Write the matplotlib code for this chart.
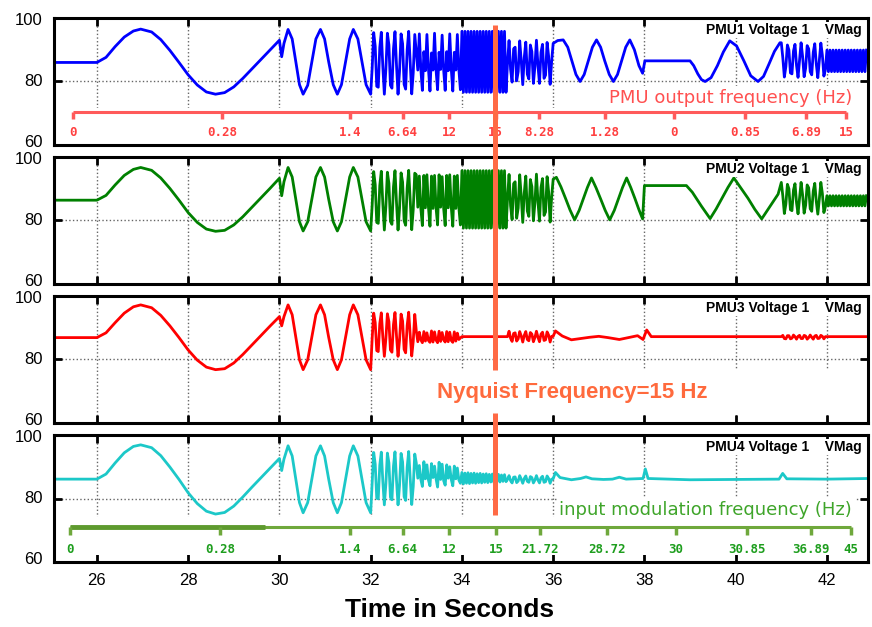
import numpy as np
import matplotlib
matplotlib.use('Agg')
import matplotlib.pyplot as plt
import matplotlib.transforms as mtransforms
from matplotlib.patches import Rectangle
from matplotlib.lines import Line2D

plt.rcParams['font.family'] = ['Liberation Sans', 'DejaVu Sans']

FS = 30.0  # PMU reporting rate (samples per second)

# common key times for 25 s .. 32 s (flat, 0.28 Hz, 1.4 Hz parts)
t_a = [25.06, 26.0, 26.2, 26.4, 26.6, 26.8, 26.96, 27.2, 27.4, 27.6, 27.8, 28.0, 28.2, 28.4, 28.6,
       28.8, 29.0, 29.2, 29.4, 29.6, 29.8, 30.0, 30.05, 30.1, 30.19, 30.28, 30.36, 30.44, 30.52,
       30.62, 30.71, 30.8, 30.9, 30.99, 31.08, 31.18, 31.27, 31.36, 31.45, 31.54, 31.62, 31.72,
       31.81, 31.9]

# ---------------- PMU1 (blue) ----------------
pmu1_v_a = [86.0, 86.0, 87.6, 91.0, 94.0, 95.9, 96.5, 95.6, 93.2, 89.8, 86.0, 82.1, 78.9, 76.7, 76.0,
            76.5, 78.3, 81.0, 84.0, 87.0, 90.0, 93.0, 87.8, 92.0, 96.4, 93.4, 86.2, 79.0, 76.0, 78.8,
            86.2, 93.4, 96.4, 93.4, 86.2, 79.0, 76.0, 79.0, 86.2, 93.4, 96.4, 93.4, 86.2, 79.0]
pmu1_fast_a = [76.0, 84.2, 95.4, 91.1, 78.5, 78.2, 90.7, 95.5, 84.7, 76.0, 83.8, 95.2, 91.5, 78.8, 77.9,
               90.3, 95.7, 85.1, 76.0, 83.3, 95.0, 91.9, 79.1, 77.6, 89.9, 95.8, 85.6, 76.1, 82.8, 94.8,
               89.2, 83.6, 95.0, 83.8, 77.2, 89.4, 83.4, 94.8, 84.0, 77.0, 89.0, 83.6, 95.2, 83.6, 77.4,
               89.2, 83.8, 94.6, 83.6, 77.2, 89.4, 83.4, 95.0, 84.0, 77.0, 89.2, 83.6, 94.8, 83.8, 77.4,
               95.8, 76.6, 95.8, 76.6, 95.8, 76.6, 95.8, 76.6, 95.8, 76.6, 95.8, 76.6, 95.8, 76.6, 95.8,
               76.6, 95.8, 76.6, 95.8, 76.6, 95.8, 76.6, 95.8, 76.6, 95.8, 76.6, 95.8, 76.6, 95.8, 76.6,
               86.0, 92.9, 83.8, 79.8, 90.3, 90.8, 80.2, 83.1, 92.8, 86.6, 79.0, 87.6, 92.4, 82.3, 80.8,
               91.5, 89.4, 79.4, 84.7, 93.0, 85.0, 79.4, 89.2, 91.7, 81.0, 82.0, 92.3, 88.0, 79.1, 86.4]
pmu1_t_b = [36.0, 36.1, 36.22, 36.32, 36.41, 36.5, 36.59, 36.68, 36.77, 36.86, 36.95, 37.04, 37.13,
            37.23, 37.32, 37.41, 37.5, 37.59, 37.68, 37.78, 37.88, 37.96, 38.01, 39.0, 39.08, 39.17,
            39.25, 39.33, 39.46, 39.6, 39.73, 39.87, 40.02, 40.18, 40.33, 40.49, 40.61, 40.73, 40.85,
            40.97]
pmu1_v_b = [92.0, 92.9, 93.1, 90.8, 86.5, 82.2, 80.0, 82.2, 86.5, 90.8, 93.1, 90.8, 86.5, 82.2, 80.0,
            82.2, 86.5, 90.8, 93.1, 90.0, 85.0, 82.6, 86.5, 86.5, 85.0, 82.4, 80.6, 80.0, 81.2, 85.0,
            89.3, 92.8, 91.2, 86.5, 81.8, 80.0, 81.6, 85.5, 89.5, 92.2]
pmu1_fast_b = [92.2, 87.4, 81.4, 84.7, 91.5, 89.9, 82.7, 82.4, 89.6, 91.7, 85.1, 81.3, 86.9, 92.2, 87.9,
               81.5, 84.2, 91.3, 90.3, 83.1, 82.1, 89.2, 91.9, 85.5, 81.2, 86.5, 92.1, 88.3, 81.7, 83.8,
               89.9, 83.1, 89.9, 83.1, 89.9, 83.1, 89.9, 83.1, 89.9, 83.1, 89.9, 83.1, 89.9, 83.1, 89.9,
               83.1, 89.9, 83.1, 89.9, 83.1, 89.9, 83.1, 89.9, 83.1, 89.9, 83.1, 89.9]

# ---------------- PMU2 (green) ----------------
pmu2_v_a = [86.4, 86.4, 87.9, 91.2, 94.2, 96.1, 96.7, 95.8, 93.4, 90.1, 86.4, 82.5, 79.4, 77.3, 76.6,
            76.9, 78.6, 81.2, 84.2, 87.2, 90.2, 93.3, 87.8, 92.2, 96.7, 93.7, 86.7, 79.6, 76.7, 79.6,
            86.7, 93.7, 96.7, 93.7, 86.7, 79.6, 76.7, 79.6, 86.7, 93.7, 96.7, 93.7, 86.7, 79.6]
pmu2_fast_a = [76.7, 84.8, 95.4, 91.3, 79.4, 79.1, 91.0, 95.5, 85.3, 77.0, 84.4, 95.2, 91.7, 79.7, 78.8,
               90.6, 95.7, 85.6, 77.0, 83.9, 95.0, 92.1, 79.9, 78.5, 90.2, 95.8, 86.1, 77.1, 83.5, 94.9,
               94.4, 84.2, 94.0, 83.8, 78.4, 94.2, 84.0, 94.4, 84.2, 78.2, 94.0, 83.8, 94.2, 84.0, 78.6,
               94.4, 84.2, 93.8, 83.8, 78.4, 94.2, 84.0, 94.4, 84.2, 78.2, 94.0, 83.8, 94.2, 84.0, 78.6,
               95.7, 77.6, 95.7, 77.6, 95.7, 77.6, 95.7, 77.6, 95.7, 77.6, 95.7, 77.6, 95.7, 77.6, 95.7,
               77.6, 95.7, 77.6, 95.7, 77.6, 95.7, 77.6, 95.7, 77.6, 95.7, 77.6, 95.7, 77.6, 95.7, 77.6,
               87.0, 94.5, 84.6, 80.3, 91.6, 92.2, 80.7, 83.9, 94.4, 87.7, 79.4, 88.7, 94.0, 83.0, 81.3,
               92.9, 90.7, 79.9, 85.6, 94.6, 85.9, 79.8, 90.4, 93.2, 81.6, 82.7, 93.8, 89.1, 79.5, 87.4]
pmu2_t_b = [36.0, 36.07, 36.17, 36.27, 36.37, 36.47, 36.57, 36.66, 36.75, 36.84, 36.94, 37.04, 37.14,
            37.24, 37.34, 37.43, 37.52, 37.61, 37.7, 37.79, 37.88, 37.96, 38.0, 38.92, 39.05, 39.25,
            39.44, 39.57, 39.7, 39.83, 39.96, 40.11, 40.27, 40.42, 40.57, 40.75, 40.93]
pmu2_v_b = [93.0, 93.6, 90.6, 87.0, 83.3, 80.2, 83.2, 86.8, 90.4, 93.4, 90.3, 86.8, 83.2, 80.2, 83.2,
            86.8, 90.4, 93.4, 90.4, 87.0, 83.4, 80.5, 91.0, 91.0, 88.9, 84.5, 80.6, 83.6, 87.0, 90.4,
            93.4, 90.3, 87.0, 83.5, 80.5, 84.4, 88.3]
pmu2_fast_b = [92.0, 87.7, 82.2, 85.2, 91.4, 90.0, 83.4, 83.1, 89.6, 91.6, 85.6, 82.1, 87.2, 92.0, 88.1,
               82.3, 84.8, 91.2, 90.3, 83.7, 82.9, 89.3, 91.7, 86.0, 82.0, 86.8, 92.0, 88.5, 82.5, 84.4,
               87.8, 84.6, 87.8, 84.6, 87.8, 84.6, 87.8, 84.6, 87.8, 84.6, 87.8, 84.6, 87.8, 84.6, 87.8,
               84.6, 87.8, 84.6, 87.8, 84.6, 87.8, 84.6, 87.8, 84.6, 87.8, 84.6, 87.8]

# ---------------- PMU3 (red) ----------------
pmu3_v_a = [86.9, 86.9, 88.4, 91.6, 94.6, 96.6, 97.2, 96.3, 93.9, 90.6, 86.9, 83.0, 79.8, 77.6, 76.8,
            77.1, 78.9, 81.6, 84.6, 87.6, 90.6, 93.5, 90.6, 93.5, 97.2, 94.1, 87.0, 79.9, 76.8, 79.9,
            87.0, 94.1, 97.2, 94.1, 87.0, 79.9, 76.8, 79.9, 87.0, 94.1, 97.2, 94.1, 87.0, 79.9]
pmu3_fast_a = [76.8, 86.7, 94.6, 91.6, 82.8, 82.5, 91.3, 94.7, 87.1, 81.0, 86.5, 94.4, 91.9, 83.0, 82.3,
               91.0, 94.8, 87.4, 81.0, 86.1, 94.3, 92.1, 83.2, 82.1, 90.7, 94.9, 87.7, 81.1, 85.8, 94.2,
               89.0, 85.6, 88.6, 86.2, 85.3, 88.8, 85.8, 88.4, 86.0, 85.4, 89.0, 85.5, 88.7, 86.1, 85.3,
               88.9, 85.7, 88.5, 86.2, 85.5, 88.8, 85.6, 88.6, 86.0, 85.4, 88.7, 85.8, 88.3, 86.3, 86.8]
pmu3_fast_b = [87.2, 88.9, 86.7, 85.7, 88.2, 88.4, 85.8, 86.5, 88.8, 87.4, 85.5, 87.6, 88.8, 86.3, 85.9,
               88.5, 88.0, 85.6, 86.9, 88.9, 87.0, 85.6, 88.0, 88.6, 86.0, 86.2, 88.7, 87.7, 85.5, 87.3]
pmu3_fast_c = [87.2, 87.6, 86.6, 86.5, 87.5, 87.5, 86.5, 86.7, 87.7, 87.2, 86.4, 87.3, 87.6, 86.6, 86.6,
               87.6, 87.4, 86.4, 86.9, 87.7, 87.0, 86.4, 87.4, 87.6, 86.6, 86.7, 87.6, 87.3, 86.5, 87.2]
pmu3_t_b = [34.0, 34.97, 36.0, 36.05, 36.2, 36.4, 36.6, 36.8, 37.0, 37.2, 37.45, 37.65, 37.85, 37.97,
            38.05, 38.15, 40.97, 42.0, 42.9]
pmu3_v_b = [87.2, 87.2, 87.3, 89.0, 87.4, 86.2, 86.6, 87.0, 87.3, 86.9, 86.3, 86.9, 87.5, 86.3, 89.3,
            87.2, 87.2, 87.2, 87.2]

# ---------------- PMU4 (cyan) ----------------
pmu4_v_a = [86.1, 86.1, 87.7, 91.2, 94.4, 96.4, 96.9, 96.0, 93.5, 89.9, 86.0, 81.8, 78.4, 76.0, 75.1,
            75.6, 77.6, 80.5, 83.6, 86.6, 89.6, 92.6, 88.8, 92.4, 96.6, 93.4, 86.1, 78.7, 75.5, 78.7,
            86.1, 93.4, 96.6, 93.4, 86.1, 78.7, 75.5, 78.7, 86.1, 93.4, 96.6, 93.4, 86.1, 78.7]
pmu4_fast_a = [75.5, 85.0, 94.5, 90.8, 80.1, 79.9, 90.5, 94.6, 85.4, 78.0, 84.6, 94.3, 91.2, 80.4, 79.6,
               90.2, 94.7, 85.7, 78.0, 84.2, 94.2, 91.5, 80.6, 79.4, 89.8, 94.8, 86.2, 78.1, 83.8, 94.0,
               91.2, 86.4, 90.4, 86.0, 83.8, 91.6, 86.2, 90.6, 85.8, 84.0, 91.0, 86.6, 90.2, 86.2, 83.6,
               91.4, 86.0, 90.8, 85.6, 84.2, 90.6, 86.4, 90.0, 86.0, 84.0, 90.2, 86.2, 89.6, 85.8, 84.8,
               88.2, 84.6, 88.0, 84.8, 88.1, 84.7, 87.9, 84.9, 88.0, 84.8, 87.8, 85.0, 87.9, 84.9, 87.7,
               85.1, 87.8, 85.0, 87.6, 85.2, 87.7, 85.1, 87.5, 85.3, 87.6, 85.2, 87.4, 85.4, 87.5, 85.3,
               86.0, 87.2, 85.6, 84.9, 86.7, 86.8, 85.0, 85.5, 87.2, 86.1, 84.8, 86.3, 87.1, 85.4, 85.1,
               86.9, 86.6, 84.9, 85.8, 87.2, 85.8, 84.9, 86.5, 87.0, 85.1, 85.3, 87.1, 86.3, 84.8, 86.1]
pmu4_t_b = [36.0, 36.05, 36.15, 36.4, 36.6, 36.72, 36.85, 37.1, 37.3, 37.45, 37.6, 37.97, 38.02, 38.08,
            39.0, 40.0, 40.95, 41.03, 41.12, 42.0, 42.9]
pmu4_v_b = [86.2, 88.2, 86.6, 85.9, 86.3, 86.8, 86.2, 86.0, 86.1, 86.7, 86.1, 86.3, 89.3, 86.3, 85.9,
            86.0, 86.1, 87.9, 86.2, 86.1, 86.3]

# frequency scales
freq_out_pos = [25.48, 28.75, 31.55, 32.70, 33.72, 34.74, 35.69, 37.13, 38.65, 40.20, 41.55, 42.42]
freq_out_lbl = ['0', '0.28', '1.4', '6.64', '12', '15', '8.28', '1.28', '0', '0.85', '6.89', '15']
freq_in_pos = [25.41, 28.70, 31.55, 32.70, 33.72, 34.75, 35.71, 37.17, 38.69, 40.24, 41.64, 42.52]
freq_in_lbl = ['0', '0.28', '1.4', '6.64', '12', '15', '21.72', '28.72', '30', '30.85', '36.89', '45']

nyquist_t = 34.72
y_ticks = [60, 80, 100]


def series(t_key, v_key, fast):
    t = list(t_key)
    v = list(v_key)
    for t0, vals in fast:
        t += list(t0 + np.arange(len(vals)) / FS)
        v += list(vals)
    t = np.array(t)
    v = np.array(v)
    order = np.argsort(t, kind='stable')
    return t[order], v[order]


panels = [
    (series(t_a + pmu1_t_b, pmu1_v_a + pmu1_v_b, [(32.0, pmu1_fast_a), (41.0, pmu1_fast_b)]),
     '#0000FF', 'PMU1 Voltage 1    VMag'),
    (series(t_a + pmu2_t_b, pmu2_v_a + pmu2_v_b, [(32.0, pmu2_fast_a), (41.0, pmu2_fast_b)]),
     '#008000', 'PMU2 Voltage 1    VMag'),
    (series(t_a + pmu3_t_b, pmu3_v_a + pmu3_v_b,
            [(32.0, pmu3_fast_a), (35.0, pmu3_fast_b), (41.0, pmu3_fast_c)]),
     '#FF0000', 'PMU3 Voltage 1    VMag'),
    (series(t_a + pmu4_t_b, pmu4_v_a + pmu4_v_b, [(32.0, pmu4_fast_a)]),
     '#1CC8C8', 'PMU4 Voltage 1    VMag'),
]

W, H = 872, 627
fig = plt.figure(figsize=(W / 100, H / 100), dpi=100)
left, right = 54 / W, 868 / W
tops = [18, 157, 296, 435]
ph = 127
axes = []
for i, ((t, v), col, name) in enumerate(panels):
    ax = fig.add_axes([left, 1 - (tops[i] + ph) / H, right - left, ph / H])
    ax.plot(t, v, color=col, lw=2.0, zorder=3)
    ax.set_xlim(25.06, 42.9)
    ax.set_ylim(60, 100)
    ax.set_xticks(np.arange(26, 43, 2))
    ax.set_yticks(y_ticks)
    ax.grid(True, linestyle=':', color='#666666', lw=1.0)
    ax.tick_params(direction='in', length=6, width=2, top=True, right=True,
                   labelsize=12, pad=8, labelleft=False)
    for s in ax.spines.values():
        s.set_linewidth(2.2)
        s.set_zorder(8)
    if i < 3:
        ax.tick_params(labelbottom=False)
    # y tick labels; 60 nudged up and 100 nudged down so neighbours do not collide
    for yv in y_ticks:
        dy = {60: 2.0, 80: 0.0, 100: -1.5}[yv] / 72
        tr = ax.get_yaxis_transform() + mtransforms.ScaledTranslation(-8 / 72, dy,
                                                                     fig.dpi_scale_trans)
        ax.text(0, yv, str(yv), transform=tr, ha='right', va='center', fontsize=12)
    ax.text(42.77, 96.2, name, ha='right', va='center', fontsize=10, fontweight='bold',
            zorder=5, bbox=dict(fc='white', ec='none', pad=1))
    axes.append(ax)

ax1, ax2, ax3, ax4 = axes
ax1.tick_params(bottom=False)

# panel 1: PMU output frequency scale
ax1.add_patch(Rectangle((25.0, 59.0), 18.0, 12.8, fc='white', ec='none', zorder=2.6))
ax1.plot([freq_out_pos[0], freq_out_pos[-1]], [70.3, 70.3], color='#FF5A5A', lw=2.2, zorder=4,
         solid_capstyle='butt')
for x, lbl in zip(freq_out_pos, freq_out_lbl):
    ax1.plot([x, x], [70.3, 68.2], color='#FF5A5A', lw=2.5, zorder=4, solid_capstyle='butt')
    ax1.text(x, 63.8, lbl, color='#FF4040', ha='center', va='center', fontsize=9,
             fontweight='bold', family='DejaVu Sans Mono', zorder=5)
ax1.text(42.55, 74.8, 'PMU output frequency (Hz)', color='#FF5050', ha='right', va='center',
         fontsize=13, family='DejaVu Sans', zorder=4, bbox=dict(fc='white', ec='none', pad=2))

# panel 3: Nyquist label box
ax3.add_patch(Rectangle((33.4, 62.4), 9.6, 14.4, fc='white', ec='none', zorder=2.6))
ax3.text(33.45, 69.7, 'Nyquist Frequency=15 Hz', color='#FF6A3D', ha='left', va='center',
         fontsize=16, fontweight='bold', zorder=5)

# panel 4: input modulation frequency scale
ax4.add_patch(Rectangle((25.0, 62.3), 18.0, 11.9, fc='white', ec='none', zorder=2.6))
ax4.plot([freq_in_pos[0], freq_in_pos[-1]], [70.9, 70.9], color='#6FA83C', lw=2.2, zorder=4,
         solid_capstyle='butt')
ax4.plot([freq_in_pos[0], 29.68], [70.9, 70.9], color='#5E9A2E', lw=3.5, zorder=4,
         solid_capstyle='butt')
for x, lbl in zip(freq_in_pos, freq_in_lbl):
    ax4.plot([x, x], [70.9, 68.6], color='#6FA83C', lw=2.5, zorder=4, solid_capstyle='butt')
    ax4.text(x, 63.9, lbl, color='#1E9E1E', ha='center', va='center', fontsize=9,
             fontweight='bold', family='DejaVu Sans Mono', zorder=5)
ax4.text(42.55, 76.4, 'input modulation frequency (Hz)', color='#3FA52A', ha='right', va='center',
         fontsize=13, family='DejaVu Sans', zorder=4, bbox=dict(fc='white', ec='none', pad=2))

# Nyquist marker across the panels
trans = mtransforms.blended_transform_factory(ax4.transData, fig.transFigure)
for y0, y1 in [(25, 370), (413, 515)]:
    fig.add_artist(Line2D([nyquist_t, nyquist_t], [1 - y0 / H, 1 - y1 / H], transform=trans,
                          color='#FF6A45', lw=3.6, zorder=10, solid_capstyle='butt'))

fig.text(450 / W, 1 - 610 / H, 'Time in Seconds', ha='center', va='center', fontsize=19,
         fontweight='bold')

fig.savefig('out.png', dpi=100)
